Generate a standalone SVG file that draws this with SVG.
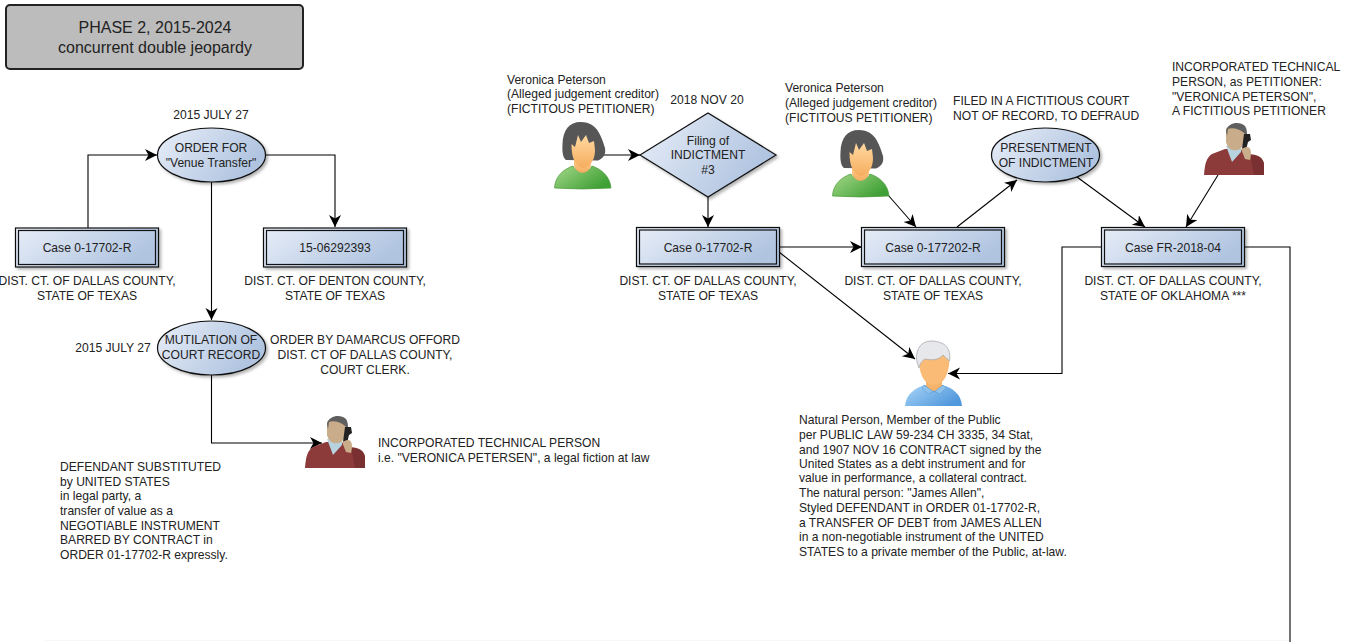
<svg xmlns="http://www.w3.org/2000/svg" width="1348" height="642" viewBox="0 0 1348 642">
<style>
text{font-family:"Liberation Sans",Arial,sans-serif;font-size:12.1px;fill:#222}
.m{text-anchor:middle}
.t{font-size:16px}
.c{fill:none;stroke:#000;stroke-width:1.1;marker-end:url(#a)}
.b{fill:none;stroke:#000;stroke-width:1.1}
.s{fill:url(#g);stroke:#111;stroke-width:1.2;filter:url(#sh)}
.i{fill:none;stroke:#111;stroke-width:1.2}
</style>
<defs>
<linearGradient id="g" x1="0" y1="0" x2="1" y2="0.4"><stop offset="0" stop-color="#e8eef8"/><stop offset="1" stop-color="#b0c4e0"/></linearGradient>
<linearGradient id="gg" x1="0" y1="0" x2="1" y2="0.6"><stop offset="0" stop-color="#a6d88a"/><stop offset="1" stop-color="#3fa035"/></linearGradient>
<linearGradient id="gb" x1="0" y1="0" x2="1" y2="0.6"><stop offset="0" stop-color="#a9d6f8"/><stop offset="1" stop-color="#5298dc"/></linearGradient>
<linearGradient id="gf" x1="0" y1="0" x2="0" y2="1"><stop offset="0" stop-color="#ffd9a0"/><stop offset="1" stop-color="#f6ad5f"/></linearGradient>
<filter id="sh" x="-10%" y="-10%" width="125%" height="130%"><feDropShadow dx="2" dy="2" stdDeviation="1.5" flood-color="#000" flood-opacity="0.3"/></filter>
<marker id="a" markerUnits="userSpaceOnUse" markerWidth="14" markerHeight="14" refX="12" refY="6" orient="auto"><path d="M0 0 L12 6 L0 12 L3.500 6Z" fill="#000"/></marker>
<symbol id="woman" width="58" height="68" viewBox="0 0 58 68" overflow="visible">
<path d="M0.500 66 C1 54 10 47 19 44 C24 52 33 52 38 44 C47 47 56 54 57 66 Q28.500 68 0.500 66Z" fill="url(#gg)" stroke="#4a9a3a" stroke-width="0.7"/>
<path d="M20 32 L20 44 C23 53 34 53 37 44 L37 32Z" fill="url(#gf)"/>
<path d="M27 0 C15 0 9 8 8.500 22 C8 30 9 36 12 38 L44 38.500 C50 36 52 32 51 26 C49 20 46 8 38 3 C35 1 31 0 27 0Z" fill="#565656"/>
<path d="M17.500 22 L21 25 L24 13 L27 20 L32 13 L35 21 L40 19 L41 28 C41 36 38 44 29 46 C21 44 17.500 36 17.500 22Z" fill="url(#gf)"/>
</symbol>
<symbol id="natural" width="58" height="66" viewBox="0 0 58 66" overflow="visible">
<path d="M0 65 C1 53 10 47 20 44 L37 44 C48 47 56 53 57 65Z" fill="url(#gb)"/>
<path d="M21 36 L21 45 C24 52 34 52 37 45 L37 36Z" fill="#f5b36b"/>
<path d="M19 44 L29 51 L38 44 L41 47 L35 53 L29 50 L23 53 L17 47Z" fill="#8fc3ec" stroke="#4f94d0" stroke-width="0.5"/>
<path d="M14 14 C13 30 18 44 29 44 C40 44 45 30 44.500 14Z" fill="#f9bb75"/>
<path d="M26 0 C17 0 11 7 11.500 18 C12 22 13 24 14 27 C15 22 17 20 20 18 C28 20 35 18 38 14 C41 17 43 18 44.500 20 C46 12 43 4 36 2 C33 0.500 30 0 26 0Z" fill="#e6e8ec" stroke="#a9abb0" stroke-width="0.8"/>
</symbol>
<symbol id="phone" width="60" height="54" viewBox="0 0 60 54" overflow="visible">
<path d="M0 53 C1 42 2 36 8 32 L21 27 L37 27 L46 32 C54 33 59 35 60 42 L60 53Z" fill="#8c3a3a"/>
<path d="M46 33 C53 33 59 36 60 42 L60 53 L50 53Z" fill="#7a3030"/>
<path d="M22 24 L28 40 L37 30 L37 22Z" fill="#b7d3df"/>
<path d="M22 7 C26 1 38 1 40 8 C42 14 41 24 36 27 C30 30 24 28 22 20Z" fill="#c9ad8a"/>
<path d="M22 9 C24 0 36 -1 41 4 C43 7 43 10 43 14 L40 11 C36 7 28 5 24 7 L23 14Z" fill="#5f5f5f"/>
<path d="M40 12 L46 12 L47 18 L44 20 L42 28 L38 27Z" fill="#222"/>
<path d="M37 27 L42 25 C47 24 48 30 46 38 L41 37Z" fill="#c9ad8a"/>
</symbol>
</defs>
<rect width="1348" height="642" fill="#fff"/>
<line x1="45" y1="640.500" x2="1290" y2="640.500" stroke="#f8f8f8"/>

<g id="connectors">
<path class="c" d="M88 228V155H157"/>
<path class="c" d="M266 155H335V227"/>
<path class="c" d="M211.500 182V320"/>
<path class="c" d="M211.500 375V443H322"/>
<path class="c" d="M604 155H640"/>
<path class="c" d="M708 197V227"/>
<path class="c" d="M779 247H862"/>
<path class="c" d="M779 252L915 359"/>
<path class="c" d="M888 195L916 227"/>
<path class="c" d="M957 227L1017 180"/>
<path class="c" d="M1077 177L1145 227"/>
<path class="c" d="M1218 175L1186 227"/>
<path class="c" d="M1102 247H1062V373.500H948"/>
<path class="b" d="M1245 247H1290V642"/>
</g>

<g id="phase">
<rect x="6" y="5" width="297" height="64" rx="4" fill="#bcbcbc" stroke="#222" stroke-width="2"/>
<text class="m t" x="155" y="33">PHASE 2, 2015-2024</text>
<text class="m t" x="155" y="53">concurrent double jeopardy</text>
</g>

<g id="order">
<text class="m" x="211" y="119">2015 JULY 27</text>
<ellipse class="s" cx="211.500" cy="155" rx="54" ry="27"/>
<text class="m" x="211" y="152">ORDER FOR</text>
<text class="m" x="211" y="167">"Venue Transfer"</text>
</g>

<g id="case-left">
<rect class="s" x="15.500" y="228" width="143" height="39"/>
<rect class="i" x="18.500" y="230.500" width="137" height="34"/>
<text class="m" x="87" y="252">Case 0-17702-R</text>
<text class="m" x="87" y="285">DIST. CT. OF DALLAS COUNTY,</text>
<text class="m" x="87" y="300">STATE OF TEXAS</text>
</g>

<g id="case-denton">
<rect class="s" x="263.500" y="228" width="143" height="39"/>
<rect class="i" x="266.500" y="230.500" width="137" height="34"/>
<text class="m" x="335" y="252">15-06292393</text>
<text class="m" x="335" y="285">DIST. CT. OF DENTON COUNTY,</text>
<text class="m" x="335" y="300">STATE OF TEXAS</text>
</g>

<g id="mutilation">
<text class="m" x="113" y="352">2015 JULY 27</text>
<ellipse class="s" cx="211.500" cy="348" rx="54" ry="27"/>
<text class="m" x="211" y="344">MUTILATION OF</text>
<text class="m" x="211" y="359">COURT RECORD</text>
<text class="m" x="365" y="344">ORDER BY DAMARCUS OFFORD</text>
<text class="m" x="365" y="359">DIST. CT OF DALLAS COUNTY,</text>
<text class="m" x="365" y="374">COURT CLERK.</text>
</g>

<g id="person-tech">
<use href="#phone" x="305" y="415"/>
<text x="378" y="447">INCORPORATED TECHNICAL PERSON</text>
<text x="378" y="462">i.e. "VERONICA PETERSEN", a legal fiction at law</text>
</g>

<g id="defendant-note">
<text x="60" y="471">DEFENDANT SUBSTITUTED</text>
<text x="60" y="486">by UNITED STATES</text>
<text x="60" y="500">in legal party, a</text>
<text x="60" y="515">transfer of value as a</text>
<text x="60" y="530">NEGOTIABLE INSTRUMENT</text>
<text x="60" y="544">BARRED BY CONTRACT in</text>
<text x="60" y="559">ORDER 01-17702-R expressly.</text>
</g>

<g id="woman-1">
<text x="507" y="84">Veronica Peterson</text>
<text x="507" y="98">(Alleged judgement creditor)</text>
<text x="507" y="113">(FICTITOUS PETITIONER)</text>
<use href="#woman" x="554" y="122"/>
</g>

<g id="filing">
<text class="m" x="707" y="104">2018 NOV 20</text>
<polygon class="s" points="640,155 708,113 776,155 708,197"/>
<text class="m" x="708" y="145">Filing of</text>
<text class="m" x="708" y="159">INDICTMENT</text>
<text class="m" x="708" y="174">#3</text>
</g>

<g id="case-mid">
<rect class="s" x="636.500" y="227.500" width="143" height="39"/>
<rect class="i" x="639.500" y="230" width="137" height="34"/>
<text class="m" x="708" y="252">Case 0-17702-R</text>
<text class="m" x="708" y="285">DIST. CT. OF DALLAS COUNTY,</text>
<text class="m" x="708" y="300">STATE OF TEXAS</text>
</g>

<g id="woman-2">
<text x="785" y="92">Veronica Peterson</text>
<text x="785" y="107">(Alleged judgement creditor)</text>
<text x="785" y="122">(FICTITOUS PETITIONER)</text>
<use href="#woman" x="832" y="130"/>
</g>

<g id="case-2">
<rect class="s" x="861.500" y="227.500" width="143" height="39"/>
<rect class="i" x="864.500" y="230" width="137" height="34"/>
<text class="m" x="933" y="252">Case 0-177202-R</text>
<text class="m" x="933" y="285">DIST. CT. OF DALLAS COUNTY,</text>
<text class="m" x="933" y="300">STATE OF TEXAS</text>
</g>

<g id="presentment">
<text x="953" y="105">FILED IN A FICTITIOUS COURT</text>
<text x="953" y="120">NOT OF RECORD, TO DEFRAUD</text>
<ellipse class="s" cx="1045.500" cy="155" rx="54" ry="27"/>
<text class="m" x="1046" y="152">PRESENTMENT</text>
<text class="m" x="1046" y="167">OF INDICTMENT</text>
</g>

<g id="person-petitioner">
<text x="1172" y="71">INCORPORATED TECHNICAL</text>
<text x="1172" y="86">PERSON, as PETITIONER:</text>
<text x="1172" y="101">"VERONICA PETERSON",</text>
<text x="1172" y="115">A FICTITIOUS PETITIONER</text>
<use href="#phone" x="1204" y="122"/>
</g>

<g id="case-fr">
<rect class="s" x="1101.500" y="227.500" width="143" height="39"/>
<rect class="i" x="1104.500" y="230" width="137" height="34"/>
<text class="m" x="1173" y="252">Case FR-2018-04</text>
<text class="m" x="1173" y="285">DIST. CT. OF DALLAS COUNTY,</text>
<text class="m" x="1173" y="300">STATE OF OKLAHOMA ***</text>
</g>

<g id="natural-person">
<use href="#natural" x="905" y="341"/>
<text x="799" y="424">Natural Person, Member of the Public</text>
<text x="799" y="439">per PUBLIC LAW 59-234 CH 3335, 34 Stat,</text>
<text x="799" y="454">and 1907 NOV 16 CONTRACT signed by the</text>
<text x="799" y="468">United States as a debt instrument and for</text>
<text x="799" y="482">value in performance, a collateral contract.</text>
<text x="799" y="497">The natural person: "James Allen",</text>
<text x="799" y="512">Styled DEFENDANT in ORDER 01-17702-R,</text>
<text x="799" y="527">a TRANSFER OF DEBT from JAMES ALLEN</text>
<text x="799" y="541">in a non-negotiable instrument of the UNITED</text>
<text x="799" y="556">STATES to a private member of the Public, at-law.</text>
</g>
</svg>
